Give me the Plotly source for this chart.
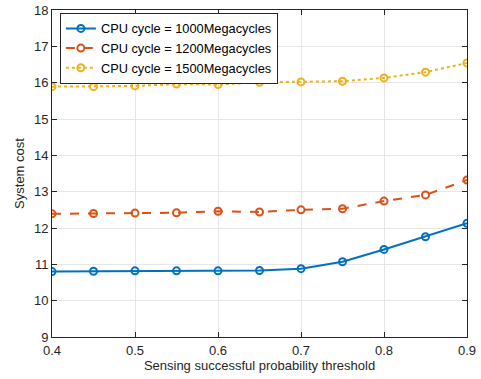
import plotly.graph_objects as go

threshold = [0.4, 0.45, 0.5, 0.55, 0.6, 0.65, 0.7, 0.75, 0.8, 0.85, 0.9]
cost_1000 = [10.80, 10.81, 10.82, 10.82, 10.82, 10.83, 10.88, 11.07, 11.41, 11.76, 12.13]
cost_1200 = [12.39, 12.40, 12.41, 12.42, 12.46, 12.44, 12.50, 12.53, 12.74, 12.91, 13.32]
cost_1500 = [15.89, 15.89, 15.91, 15.96, 15.95, 16.01, 16.02, 16.04, 16.13, 16.29, 16.54]
names = ["CPU cycle = 1000Megacycles", "CPU cycle = 1200Megacycles", "CPU cycle = 1500Megacycles"]
colors = ["#0072BD", "#D95319", "#EDB120"]
dashes = ["solid", "dash", "dot"]

fig = go.Figure()
for ys, nm, c, d in zip([cost_1000, cost_1200, cost_1500], names, colors, dashes):
    fig.add_trace(go.Scatter(
        x=threshold, y=ys, name=nm, mode="lines+markers",
        line=dict(color=c, width=2, dash=d),
        marker=dict(symbol="circle-open", size=7, color=c, line=dict(width=2, color=c)),
    ))

axis_common = dict(
    showline=True, linecolor="#262626", linewidth=1, mirror="ticks",
    ticks="inside", ticklen=5, tickcolor="#262626", automargin=False,
    showgrid=True, gridcolor="#e6e6e6", gridwidth=1, zeroline=False,
    tickfont=dict(family="Liberation Sans, Arial", size=13, color="#262626"),
)
fig.update_xaxes(range=[0.4, 0.9], dtick=0.1, tickformat=".1f", ticklabelstandoff=1,
                 title=dict(text="Sensing successful probability threshold", standoff=2,
                            font=dict(family="Liberation Sans, Arial", size=13, color="#262626")),
                 **axis_common)
fig.update_yaxes(range=[9, 18], dtick=1,
                 title=dict(text="System cost", standoff=6,
                            font=dict(family="Liberation Sans, Arial", size=13, color="#262626")),
                 **axis_common)

fig.update_layout(
    width=481, height=379,
    margin=dict(l=52, r=14, t=10, b=42),
    plot_bgcolor="white", paper_bgcolor="white",
    font=dict(family="Liberation Sans, Arial", size=13, color="#262626"),
    legend=dict(x=0.019, y=0.992, xanchor="left", yanchor="top",
                bgcolor="white", bordercolor="#262626", borderwidth=1,
                font=dict(size=12.8, color="#000000"),
                tracegroupgap=0, itemwidth=30),
    showlegend=True,
)

fig.write_html("out.html", config={"displayModeBar": False},
               post_script="document.body.style.margin='0';")
